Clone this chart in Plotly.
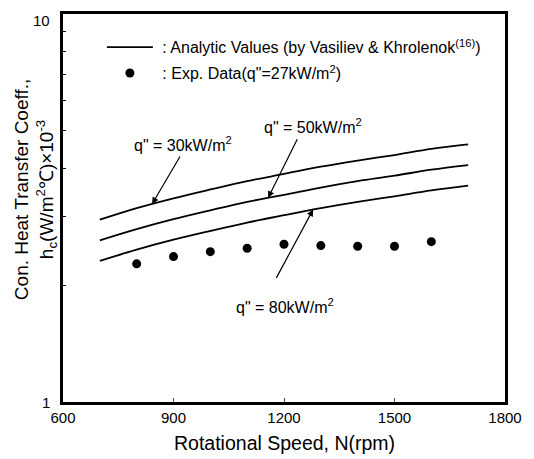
import numpy as np
import plotly.graph_objects as go

# ---- data ----
rpm_curve = [700, 800, 900, 1000, 1100, 1200, 1300, 1400, 1500, 1600, 1700]
h_q30 = [2.95, 3.16, 3.35, 3.53, 3.71, 3.87, 4.04, 4.19, 4.33, 4.49, 4.61]
h_q50 = [2.61, 2.79, 2.96, 3.12, 3.28, 3.42, 3.57, 3.71, 3.83, 3.97, 4.08]
h_q80 = [2.31, 2.47, 2.62, 2.76, 2.90, 3.03, 3.16, 3.28, 3.39, 3.51, 3.61]

rpm_exp = [800, 900, 1000, 1100, 1200, 1300, 1400, 1500, 1600]
h_exp = [2.27, 2.37, 2.44, 2.49, 2.55, 2.53, 2.52, 2.52, 2.59]

x_ticks = [600, 900, 1200, 1500, 1800]
y_ticks = [1, 10]
y_tick_text = ["1", "10"]
y_minor = [2, 3, 4, 5, 6, 7, 8, 9]

FONT = "Liberation Sans, Arial, sans-serif"
NB = "\u00a0"

fig = go.Figure()
for i, ys in enumerate([h_q30, h_q50, h_q80]):
    fig.add_trace(go.Scatter(
        x=rpm_curve, y=ys, mode="lines", line=dict(color="black", width=1.8, shape="spline"),
        name=NB + ": Analytic Values (by Vasiliev & Khrolenok<sup>(16)</sup>)",
        legendgroup="ana", showlegend=(i == 0)))
fig.add_trace(go.Scatter(
    x=rpm_exp, y=h_exp, mode="markers", marker=dict(color="black", size=9),
    name=NB + ': Exp. Data(q"=27kW/m<sup>2</sup>)'))

def on_curve(xv, ys):
    return float(np.log10(np.interp(xv, rpm_curve, ys)))

labels = [
    ('q" = 30kW/m<sup>2</sup>', 926, 4.62, 920, 4.33, 842, h_q30),
    ('q" = 50kW/m<sup>2</sup>', 1279, 5.13, 1238, 4.80, 1157, h_q50),
    ('q" = 80kW/m<sup>2</sup>', 1203, 1.77, 1177, 2.07, 1279, h_q80),
]
for txt, tx, ty, axv, ayv, tipx, ys in labels:
    fig.add_annotation(x=tx, y=np.log10(ty), text=txt, showarrow=False,
                       font=dict(size=16, color="black", family=FONT))
    fig.add_annotation(x=tipx, y=on_curve(tipx, ys), ax=axv, ay=np.log10(ayv),
                       axref="x", ayref="y", text="", showarrow=True,
                       arrowhead=2, arrowsize=1.1, arrowwidth=1.2, arrowcolor="black")

# y tick labels (as text, so the top one is not dropped at the figure edge)
label_yshift = {"1": 0, "10": -6}
for v, t in zip(y_ticks, y_tick_text):
    fig.add_annotation(xref="paper", yref="y", x=0, y=np.log10(v), xshift=-11,
                       yshift=label_yshift[t],
                       xanchor="right", yanchor="middle", showarrow=False, text=t,
                       font=dict(size=15, family=FONT, color="black"))

# axis titles
fig.add_annotation(xref="paper", yref="paper", x=0, y=0.546, xshift=-28,
                   xanchor="center", yanchor="middle", textangle=-90, showarrow=False,
                   text="Con. Heat Transfer Coeff.,<br>h<sub>c</sub>(W/m<sup>2</sup>℃)×10<sup>-3</sup>",
                   font=dict(size=19, family=FONT, color="black"))
fig.add_annotation(xref="paper", yref="paper", x=0.5, y=0, yshift=-41,
                   xanchor="center", yanchor="middle", showarrow=False,
                   text="Rotational Speed, N(rpm)",
                   font=dict(size=19.5, family=FONT, color="black"))

fig.update_layout(
    width=526, height=451,
    margin=dict(l=55, r=29, t=3, b=57),
    paper_bgcolor="white", plot_bgcolor="white",
    font=dict(family=FONT, size=15, color="black"),
    showlegend=True,
    legend=dict(x=0.088, y=0.958, xanchor="left", yanchor="top",
                bgcolor="rgba(0,0,0,0)", font=dict(size=16, family=FONT),
                itemwidth=46, tracegroupgap=2),
    xaxis=dict(range=[600, 1800], tickvals=x_ticks, ticks="inside", ticklen=4,
               showline=True, linecolor="black", linewidth=2.5, mirror=True,
               showgrid=False, zeroline=False, tickfont=dict(size=15)),
    yaxis=dict(type="log", range=[0, 1], tickvals=y_ticks, showticklabels=False,
               ticks="", showline=True, linecolor="black", linewidth=2.5, mirror=True,
               showgrid=False, zeroline=False,
               minor=dict(tickvals=y_minor, ticks="inside", ticklen=3, tickcolor="black")),
)

fig.write_html("out.html")
